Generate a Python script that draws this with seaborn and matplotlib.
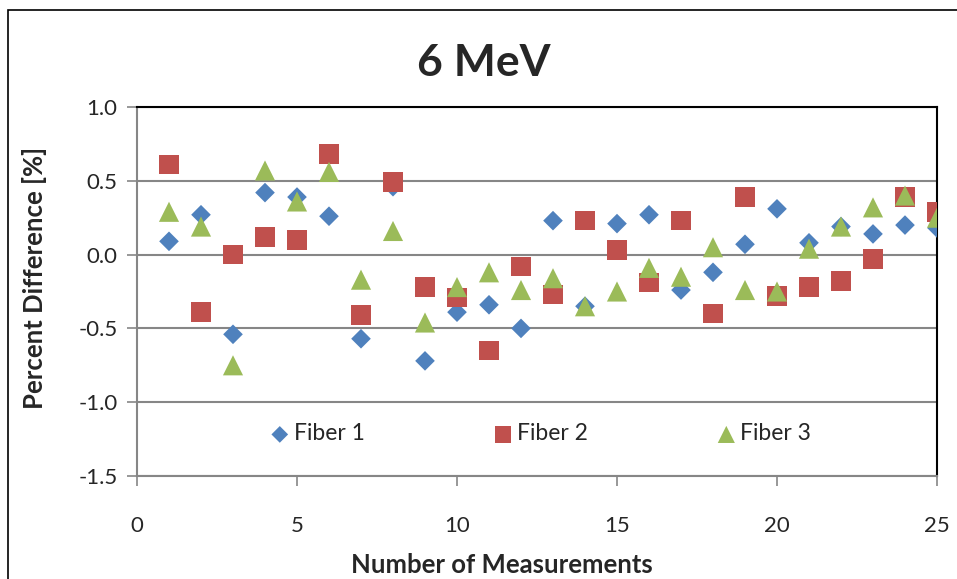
import matplotlib
matplotlib.use("Agg")
import matplotlib.pyplot as plt
import seaborn as sns
import pandas as pd
from matplotlib.patches import Rectangle

measurements = list(range(1, 26))
fiber1 = [0.09, 0.27, -0.54, 0.42, 0.39, 0.26, -0.57, 0.46, -0.72, -0.39, -0.34, -0.50, 0.23, -0.35, 0.21,
          0.27, -0.24, -0.12, 0.07, 0.31, 0.08, 0.19, 0.14, 0.20, 0.18]
fiber2 = [0.61, -0.39, 0.00, 0.12, 0.10, 0.68, -0.41, 0.49, -0.22, -0.29, -0.65, -0.08, -0.27, 0.23, 0.03,
          -0.19, 0.23, -0.40, 0.39, -0.28, -0.22, -0.18, -0.03, 0.39, 0.29]
fiber3 = [0.29, 0.19, -0.75, 0.57, 0.36, 0.56, -0.17, 0.16, -0.46, -0.22, -0.12, -0.24, -0.16, -0.35, -0.25,
          -0.09, -0.15, 0.05, -0.24, -0.25, 0.04, 0.19, 0.32, 0.40, 0.25]
series_names = ["Fiber 1", "Fiber 2", "Fiber 3"]
colors = ["#4F81BD", "#C0504D", "#9BBB59"]
markers = ["D", "s", "^"]
sizes = [100, 200, 210]

title = "6 MeV"
xlabel = "Number of Measurements"
ylabel = "Percent Difference [%]"
xticks = [0, 5, 10, 15, 20, 25]
yticks = [-1.5, -1.0, -0.5, 0.0, 0.5, 1.0]

sns.set_theme(style="white")
plt.rcParams["font.family"] = ["Lato", "DejaVu Sans"]

fig = plt.figure(figsize=(9.57, 5.79), dpi=100)
ax = fig.add_axes([137/957, 1-476/579, 800/957, 369/579])

for name, vals, c, m, s in zip(series_names, [fiber1, fiber2, fiber3], colors, markers, sizes):
    df = pd.DataFrame({"x": measurements, "y": vals})
    sns.scatterplot(data=df, x="x", y="y", ax=ax, color=c, marker=m, s=s,
                    edgecolor="none", linewidth=0, label=name, zorder=3)

ax.set_xlim(0, 25)
ax.set_ylim(-1.5, 1.0)
ax.set_xticks(xticks)
ax.set_yticks(yticks)
ax.set_yticklabels([f"{v:.1f}" for v in yticks])
ax.grid(axis="y", color="#868686", linewidth=1.5)
ax.set_axisbelow(True)
for side in ["left", "bottom"]:
    ax.spines[side].set_color("#868686")
    ax.spines[side].set_linewidth(1.5)
for side in ["top", "right"]:
    ax.spines[side].set_color("black")
    ax.spines[side].set_linewidth(1.5)
ax.tick_params(axis="x", direction="out", length=7, width=1.2, color="#868686",
               labelsize=16, pad=22, bottom=True)
ax.tick_params(axis="y", direction="out", length=7, width=1.2, color="#868686",
               labelsize=16, pad=7, left=True)
ax.set_xlabel("")
ax.set_ylabel("")

fig.text(0.5055, 1-63/579, title, ha="center", va="center", fontsize=32, fontweight="bold")
fig.text(502/957, 1-565/579, xlabel, ha="center", va="center", fontsize=18.5, fontweight="bold")
fig.text(35/957, 1-278/579, ylabel, ha="center", va="center", fontsize=18.5, fontweight="bold", rotation=90)

leg = ax.legend(loc="center", bbox_to_anchor=(0.504, 0.114), ncol=3, frameon=False,
                fontsize=16.5, handlelength=0.9, handletextpad=0.15, columnspacing=5.6,
                markerscale=0.85)

fig.patches.append(Rectangle((8/957, -0.1), 1.2, 1.1 - 10/579, transform=fig.transFigure,
                             fill=False, edgecolor="black", linewidth=1.2))

fig.savefig("out.png", dpi=100)
